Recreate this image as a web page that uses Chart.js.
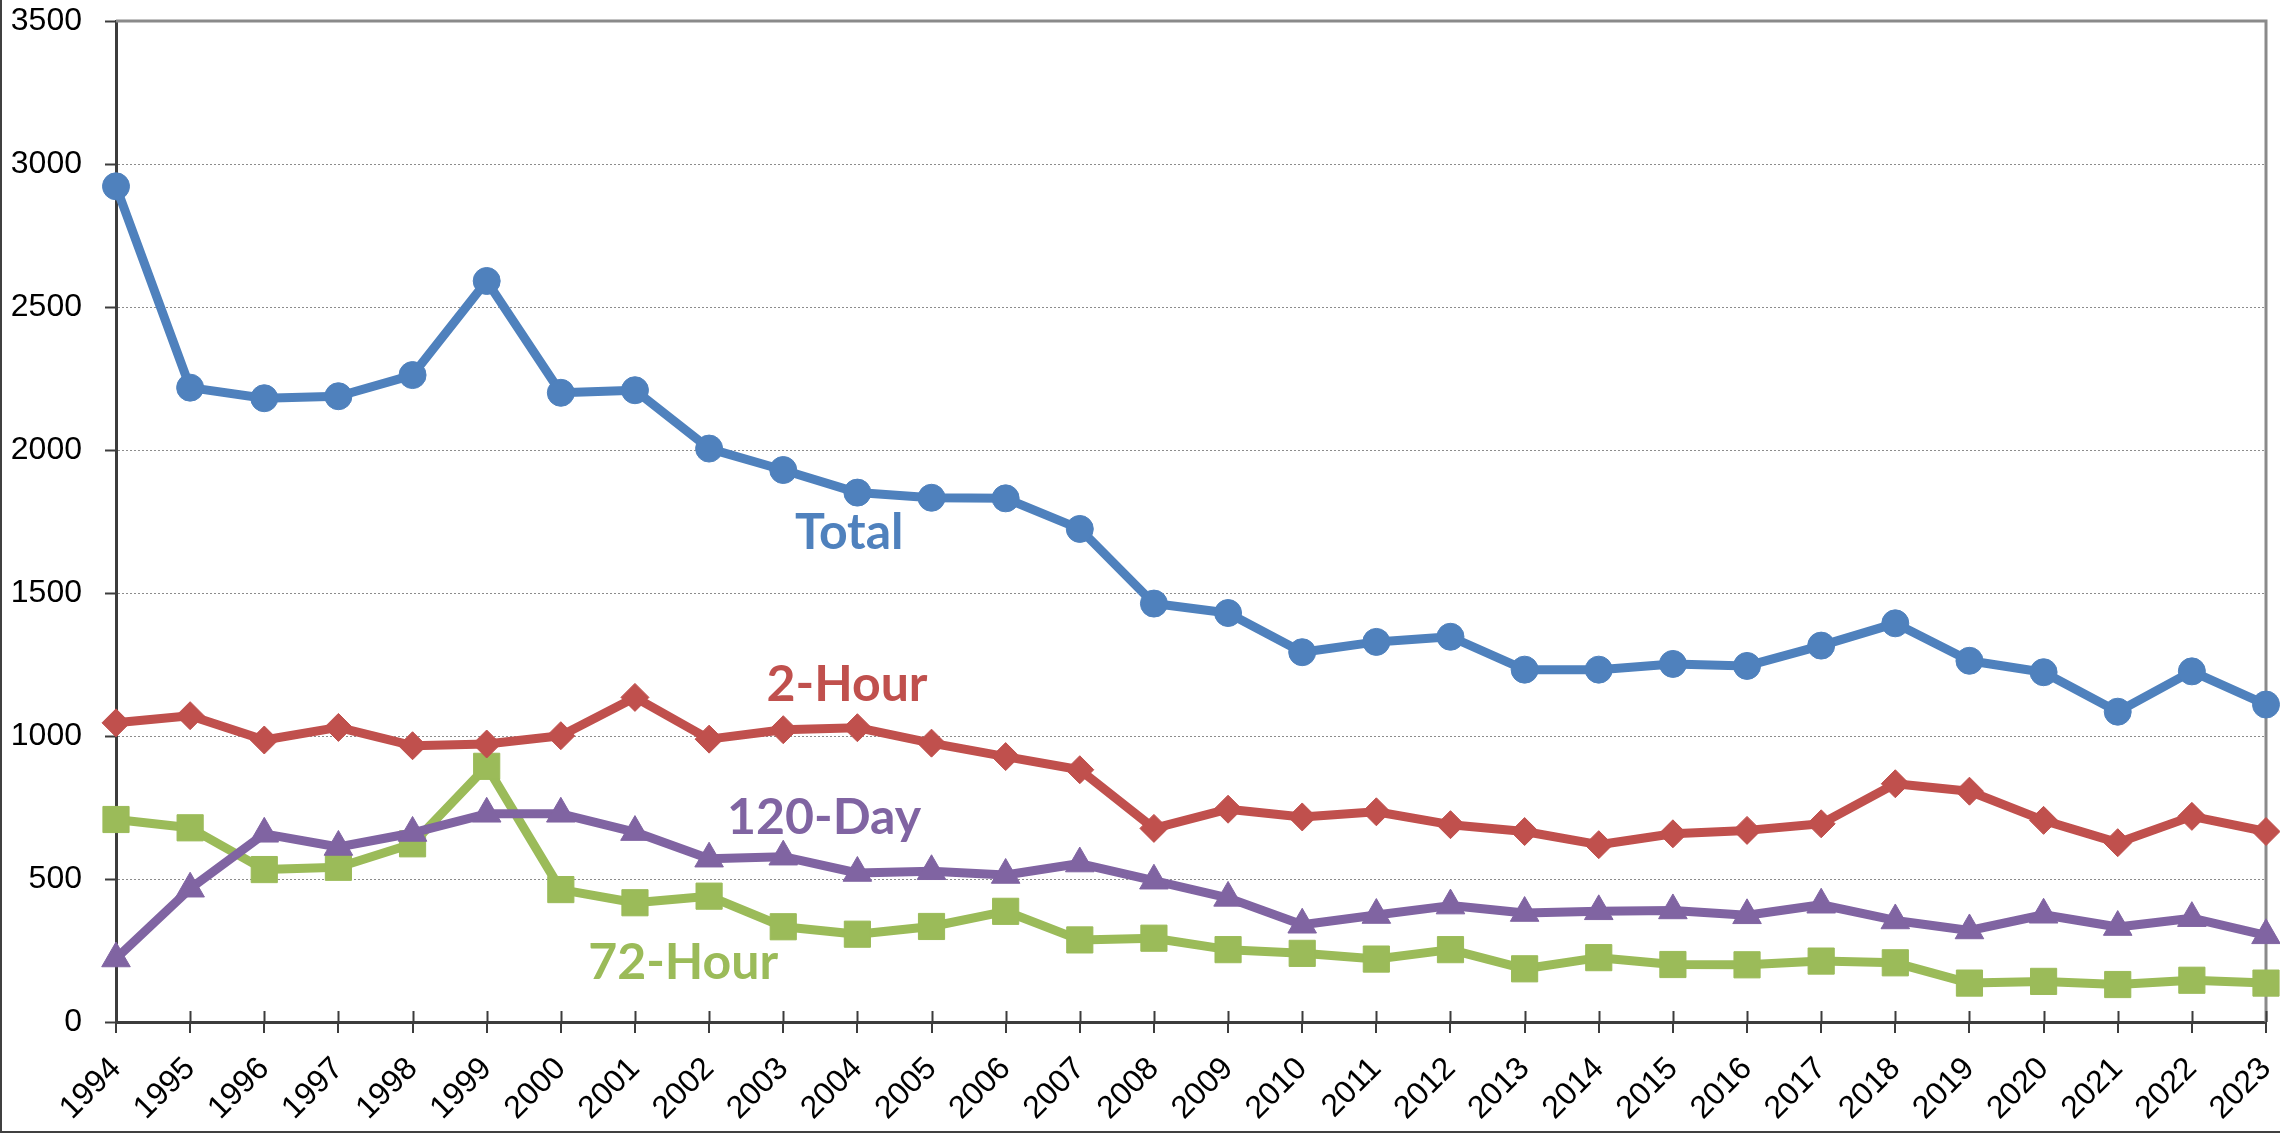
<!DOCTYPE html>
<html>
<head>
<meta charset="utf-8">
<title>Trends 1994-2023</title>
<script src="https://cdn.jsdelivr.net/npm/chart.js@4.4.1/dist/chart.umd.min.js"></script>
<style>
    html, body { margin: 0; padding: 0; background: #ffffff; }
    #wrap { position: relative; width: 2280px; height: 1133px; }
</style>
</head>
<body>
<div id="wrap"><canvas id="trend-chart"></canvas></div>
<script>
// Yearly counts

const YEARS = ['1994', '1995', '1996', '1997', '1998', '1999', '2000', '2001', '2002', '2003',
    '2004', '2005', '2006', '2007', '2008', '2009', '2010', '2011', '2012', '2013',
    '2014', '2015', '2016', '2017', '2018', '2019', '2020', '2021', '2022', '2023'];

const TOTAL = [2922, 2218, 2181, 2188, 2262, 2591, 2200, 2209, 2005, 1930,
    1851, 1833, 1831, 1724, 1463, 1430, 1293, 1329, 1347, 1232,
    1232, 1252, 1245, 1316, 1394, 1263, 1223, 1085, 1226, 1110];

const TWO_HOUR = [1046, 1071, 986, 1030, 966, 972, 1001, 1135, 989, 1022,
    1029, 975, 928, 882, 677, 744, 717, 735, 690, 666,
    620, 658, 670, 693, 833, 807, 705, 627, 719, 666];

const DAY_120 = [222, 466, 658, 612, 661, 728, 728, 664, 571, 578,
    521, 527, 514, 554, 494, 434, 340, 374, 407, 381,
    387, 390, 373, 410, 355, 320, 375, 332, 363, 303];

const HOUR_72 = [708, 679, 533, 541, 623, 894, 463, 417, 440, 333,
    307, 334, 387, 287, 293, 253, 240, 220, 253, 186,
    225, 201, 200, 213, 207, 136, 142, 131, 146, 136];

const Y_MIN = 0;
const Y_MAX = 3500;
const Y_STEP = 500;

const COLORS = {
    total: '#4f81bd',
    twoHour: '#c0504d',
    day120: '#8064a2',
    hour72: '#9bbb59',
    axis: '#3c3c3c',
    frame: '#8a8a8a',
    grid: '#8c8c8c'
};

const TICK_FONT = { family: "'Liberation Sans', Arial, sans-serif", size: 32 };

// In-chart series names, placed by category index / value
const SERIES_NAMES = [
    { text: 'Total', color: COLORS.total, at: 9.89, value: 1654 },
    { text: '2-Hour', color: COLORS.twoHour, at: 9.86, value: 1124 },
    { text: '120-Day', color: COLORS.day120, at: 9.55, value: 659 },
    { text: '72-Hour', color: COLORS.hour72, at: 7.65, value: 152 }
];

/**
 * Series names drawn inside the plot
 */
const seriesNamesPlugin = {
    id: 'seriesNames',
    afterDatasetsDraw(chart) {
        const { ctx, scales: { x, y } } = chart;
        ctx.save();
        ctx.font = "bold 50px Lato, 'Open Sans', sans-serif";
        ctx.textAlign = 'center';
        ctx.textBaseline = 'alphabetic';
        SERIES_NAMES.forEach(n => {
            ctx.fillStyle = n.color;
            ctx.fillText(n.text, x.getPixelForValue(n.at), y.getPixelForValue(n.value));
        });
        ctx.restore();
    }
};

/**
 * Gray top/right frame, inner half of the x tick marks, outer picture edge
 */
const framePlugin = {
    id: 'frame',
    beforeDatasetsDraw(chart) {
        const { ctx, chartArea: a, scales: { x } } = chart;
        ctx.save();
        ctx.strokeStyle = COLORS.frame;
        ctx.lineWidth = 3;
        ctx.beginPath();
        ctx.moveTo(a.left, a.top);
        ctx.lineTo(a.right, a.top);
        ctx.lineTo(a.right, a.bottom);
        ctx.stroke();

        ctx.strokeStyle = COLORS.axis;
        ctx.lineWidth = 2;
        ctx.beginPath();
        YEARS.forEach((_, i) => {
            const px = Math.round(x.getPixelForValue(i)) + 0.5;
            ctx.moveTo(px, a.bottom - 11);
            ctx.lineTo(px, a.bottom);
        });
        ctx.stroke();
        ctx.restore();
    },
    afterDraw(chart) {
        const { ctx, width, height } = chart;
        ctx.save();
        ctx.strokeStyle = '#404040';
        ctx.lineWidth = 2;
        ctx.beginPath();
        ctx.moveTo(1, 0);
        ctx.lineTo(1, height - 1);
        ctx.lineTo(width, height - 1);
        ctx.stroke();
        ctx.restore();
    }
};

/**
 * Drop the label overflow padding so the plot edges follow layout.padding only
 */
function clearScalePadding(scale) {
    scale.paddingTop = 0;
    scale.paddingBottom = 0;
    scale.paddingLeft = 0;
    scale.paddingRight = 0;
}

function lineSeries(label, data, color, pointStyle, radius) {
    return {
        label,
        data,
        borderColor: color,
        backgroundColor: color,
        borderWidth: 9,
        borderJoinStyle: 'round',
        borderCapStyle: 'round',
        tension: 0,
        pointStyle,
        pointRadius: radius,
        pointBackgroundColor: color,
        pointBorderColor: color,
        pointBorderWidth: 1,
        clip: false
    };
}

function createTrendChart() {
    const canvas = document.getElementById('trend-chart');
    if (!canvas) return;
    const ctx = canvas.getContext('2d');

    new Chart(ctx, {
        type: 'line',
        data: {
            labels: YEARS,
            datasets: [
                lineSeries('Total', TOTAL, COLORS.total, 'circle', 13.5),
                lineSeries('2-Hour', TWO_HOUR, COLORS.twoHour, 'rectRot', 14),
                lineSeries('120-Day', DAY_120, COLORS.day120, 'triangle', 16.5),
                lineSeries('72-Hour', HOUR_72, COLORS.hour72, 'rect', 18.5)
            ]
        },
        options: {
            responsive: true,
            maintainAspectRatio: false,
            animation: false,
            layout: {
                autoPadding: false,
                padding: { top: 21, right: 14, bottom: 0, left: 0 }
            },
            plugins: {
                legend: { display: false },
                tooltip: { enabled: false }
            },
            scales: {
                x: {
                    offset: false,
                    ticks: {
                        color: '#000000',
                        font: TICK_FONT,
                        minRotation: 45,
                        maxRotation: 45,
                        autoSkip: false,
                        padding: 17
                    },
                    grid: {
                        drawOnChartArea: false,
                        tickLength: 11,
                        color: COLORS.axis,
                        lineWidth: 2
                    },
                    border: { color: COLORS.axis, width: 3 },
                    afterFit: (scale) => {
                        scale.height = 111;
                        clearScalePadding(scale);
                    }
                },
                y: {
                    min: Y_MIN,
                    max: Y_MAX,
                    ticks: {
                        stepSize: Y_STEP,
                        color: '#000000',
                        font: TICK_FONT,
                        padding: 23,
                        callback: (v) => String(v)
                    },
                    grid: {
                        color: COLORS.grid,
                        lineWidth: 1,
                        tickLength: 11,
                        tickColor: COLORS.axis,
                        tickWidth: 2,
                        tickBorderDash: []
                    },
                    border: { color: COLORS.axis, width: 3, dash: [2, 2] },
                    afterFit: (scale) => {
                        scale.width = 116;
                        clearScalePadding(scale);
                    }
                }
            }
        },
        plugins: [framePlugin, seriesNamesPlugin]
    });
}

createTrendChart();
</script>
</body>
</html>
